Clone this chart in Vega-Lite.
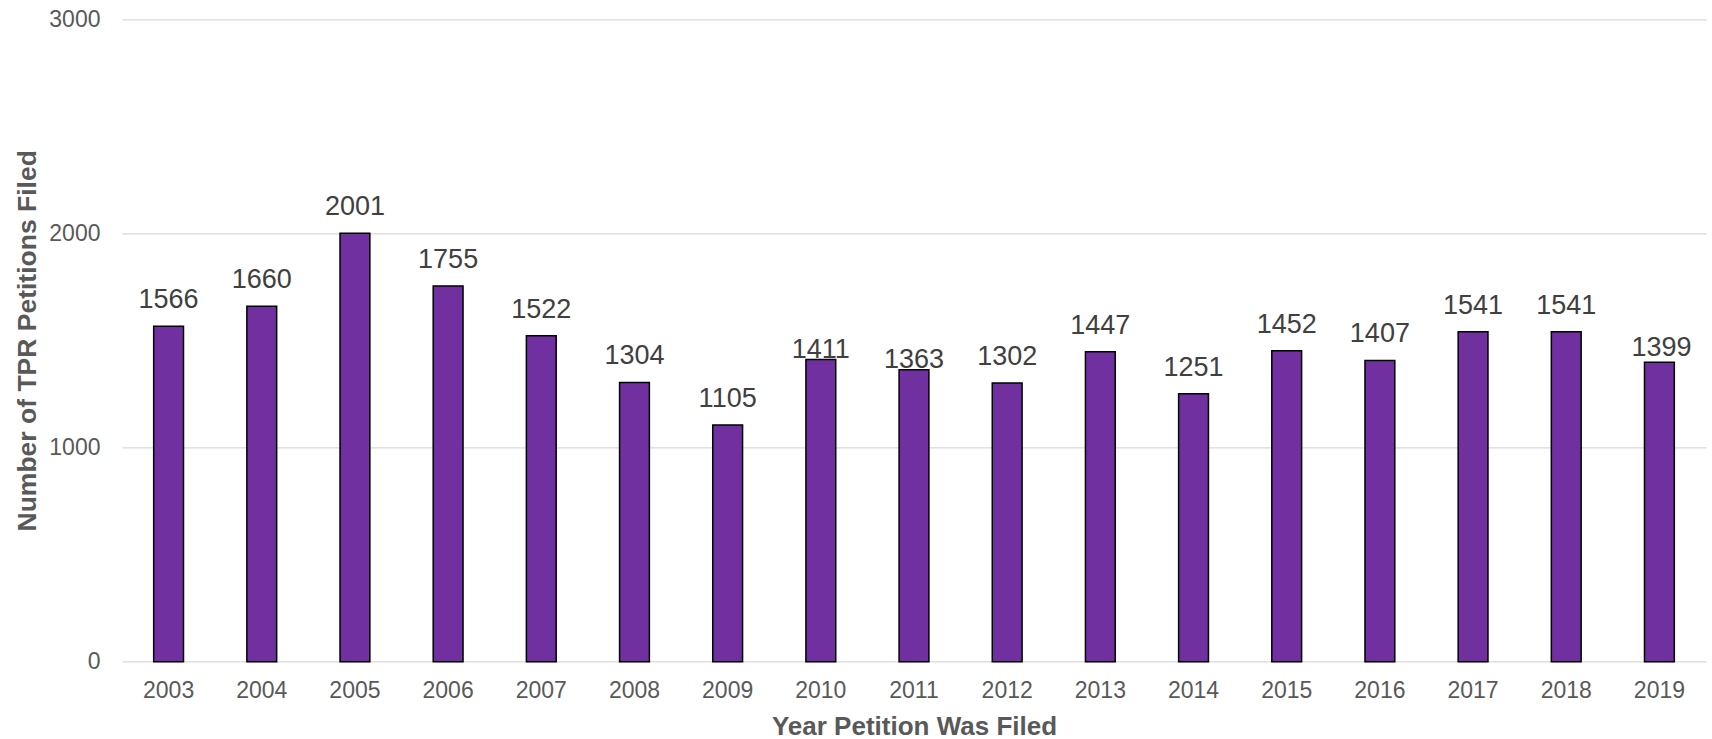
{
  "$schema": "https://vega.github.io/schema/vega-lite/v6.json",
  "width": 1584,
  "height": 642.4,
  "autosize": {"type": "none"},
  "padding": {"left": 122, "top": 19.3, "right": 6, "bottom": 77.3},
  "background": "white",
  "config": {
    "view": {"stroke": null},
    "font": "Liberation Sans",
    "text": {"font": "Liberation Sans"}
  },
  "data": {
    "values": [
      {"year": "2003", "count": 1566},
      {"year": "2004", "count": 1660},
      {"year": "2005", "count": 2001},
      {"year": "2006", "count": 1755},
      {"year": "2007", "count": 1522},
      {"year": "2008", "count": 1304},
      {"year": "2009", "count": 1105},
      {"year": "2010", "count": 1411},
      {"year": "2011", "count": 1363},
      {"year": "2012", "count": 1302},
      {"year": "2013", "count": 1447},
      {"year": "2014", "count": 1251},
      {"year": "2015", "count": 1452},
      {"year": "2016", "count": 1407},
      {"year": "2017", "count": 1541},
      {"year": "2018", "count": 1541},
      {"year": "2019", "count": 1399}
    ]
  },
  "encoding": {
    "x": {
      "field": "year",
      "type": "nominal",
      "sort": null,
      "scale": {"paddingInner": 0.68, "paddingOuter": 0.34},
      "axis": {
        "title": "Year Petition Was Filed",
        "labelAngle": 0,
        "labelFont": "Liberation Sans",
        "labelFontSize": 23,
        "labelColor": "#595959",
        "labelPadding": 18,
        "ticks": false,
        "domain": false,
        "titleFont": "Liberation Sans",
        "titleFontSize": 26,
        "titleFontWeight": "bold",
        "titleColor": "#595959",
        "titleBaseline": "alphabetic",
        "titleY": 73
      }
    },
    "y": {
      "field": "count",
      "type": "quantitative",
      "scale": {"domain": [0, 3000], "nice": false},
      "axis": {
        "title": "Number of TPR Petitions Filed",
        "values": [0, 1000, 2000, 3000],
        "format": "d",
        "labelFont": "Liberation Sans",
        "labelFontSize": 23,
        "labelColor": "#595959",
        "labelPadding": 22,
        "ticks": false,
        "domain": false,
        "grid": true,
        "gridColor": "#D9D9D9",
        "gridWidth": 1.3,
        "titleFont": "Liberation Sans",
        "titleFontSize": 26.5,
        "titleFontWeight": "bold",
        "titleColor": "#595959",
        "titleBaseline": "alphabetic",
        "titleAngle": -90,
        "titleX": -87,
        "titleY": 321
      }
    }
  },
  "layer": [
    {
      "mark": {"type": "bar", "color": "#7030A0", "stroke": "#000000", "strokeWidth": 1.5}
    },
    {
      "transform": [{"filter": "datum.year != '2010' && datum.year != '2011' && datum.year != '2019'"}],
      "mark": {"type": "text", "baseline": "alphabetic", "dy": -18, "fontSize": 27, "color": "#404040", "font": "Liberation Sans"},
      "encoding": {"text": {"field": "count", "type": "quantitative", "format": "d"}}
    },
    {
      "transform": [{"filter": "datum.year == '2010' || datum.year == '2011'"}],
      "mark": {"type": "text", "baseline": "alphabetic", "dy": -2, "fontSize": 27, "color": "#404040", "font": "Liberation Sans"},
      "encoding": {"text": {"field": "count", "type": "quantitative", "format": "d"}}
    },
    {
      "transform": [{"filter": "datum.year == '2019'"}],
      "mark": {"type": "text", "baseline": "alphabetic", "dy": -6, "dx": 2, "fontSize": 27, "color": "#404040", "font": "Liberation Sans"},
      "encoding": {"text": {"field": "count", "type": "quantitative", "format": "d"}}
    }
  ]
}
